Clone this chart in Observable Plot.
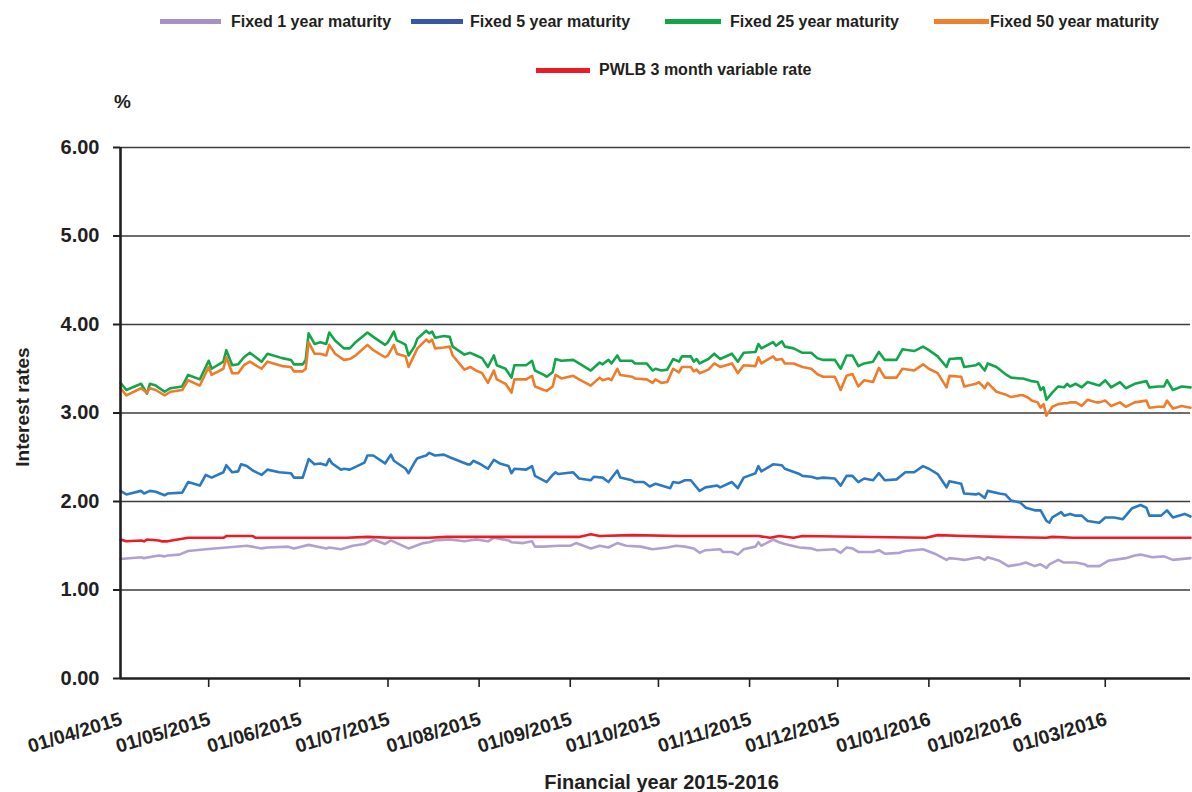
<!DOCTYPE html>
<html>
<head>
<meta charset="utf-8">
<script src="https://cdn.jsdelivr.net/npm/d3@7"></script>
<script src="https://cdn.jsdelivr.net/npm/@observablehq/plot@0.6"></script>
<style>
  body { margin: 0; background: #fff; font-family: "Liberation Sans", Arial, sans-serif; color: #231f20; }
  #legend { position: relative; width: 1192px; height: 86px; }
  .sw { position: absolute; height: 5px; }
  .lt { position: absolute; font-size: 16px; line-height: 16px; font-weight: bold; white-space: nowrap; color: #231f20; }
</style>
</head>
<body>
<div id="legend"></div>
<div id="chart"></div>
<script>
// ---------------- DATA ----------------
const seriesNames = ["Fixed 1 year maturity", "Fixed 5 year maturity", "Fixed 25 year maturity", "Fixed 50 year maturity", "PWLB 3 month variable rate"];

const monthTicks = ["2015-04-01","2015-05-01","2015-06-01","2015-07-01","2015-08-01","2015-09-01","2015-10-01","2015-11-01","2015-12-01","2016-01-01","2016-02-01","2016-03-01"];
const yTicks = [0, 1, 2, 3, 4, 5, 6];

// dates shared by the 25 year and 50 year series
const upperDates = [
"2015-04-01","2015-04-03","2015-04-08","2015-04-10","2015-04-11","2015-04-13","2015-04-16","2015-04-18","2015-04-22","2015-04-24","2015-04-28",
"2015-05-01","2015-05-02","2015-05-06","2015-05-07","2015-05-09","2015-05-11","2015-05-13","2015-05-15","2015-05-19","2015-05-21","2015-05-26","2015-05-29","2015-05-30",
"2015-06-02","2015-06-03","2015-06-04","2015-06-06","2015-06-08","2015-06-10","2015-06-11","2015-06-13","2015-06-16","2015-06-18","2015-06-20","2015-06-24","2015-06-26","2015-06-30",
"2015-07-01","2015-07-03","2015-07-04","2015-07-06","2015-07-07","2015-07-08","2015-07-10","2015-07-11","2015-07-14","2015-07-15","2015-07-16","2015-07-17","2015-07-20","2015-07-22","2015-07-23","2015-07-27","2015-07-29","2015-07-31",
"2015-08-02","2015-08-04","2015-08-06","2015-08-07","2015-08-10","2015-08-12","2015-08-13","2015-08-17","2015-08-19","2015-08-20","2015-08-23","2015-08-24","2015-08-26","2015-08-27","2015-08-29",
"2015-09-02","2015-09-04","2015-09-08","2015-09-11","2015-09-12","2015-09-14","2015-09-15","2015-09-17","2015-09-18","2015-09-22","2015-09-23","2015-09-27","2015-09-29","2015-09-30",
"2015-10-02","2015-10-04","2015-10-06","2015-10-08","2015-10-09","2015-10-12","2015-10-13","2015-10-14","2015-10-15","2015-10-18","2015-10-20","2015-10-22","2015-10-26","2015-10-28","2015-10-30",
"2015-11-03","2015-11-04","2015-11-05","2015-11-09","2015-11-10","2015-11-12","2015-11-13","2015-11-16","2015-11-19","2015-11-22","2015-11-24","2015-11-26","2015-11-30",
"2015-12-02","2015-12-04","2015-12-06","2015-12-08","2015-12-10","2015-12-13","2015-12-15","2015-12-17","2015-12-21","2015-12-23","2015-12-27","2015-12-30",
"2016-01-01","2016-01-04","2016-01-07","2016-01-08","2016-01-12","2016-01-13","2016-01-17","2016-01-18","2016-01-20","2016-01-21","2016-01-24","2016-01-27","2016-01-29",
"2016-02-01","2016-02-02","2016-02-04","2016-02-05","2016-02-07","2016-02-08","2016-02-09","2016-02-10","2016-02-12","2016-02-14","2016-02-16","2016-02-17","2016-02-18","2016-02-20","2016-02-22","2016-02-24","2016-02-27","2016-02-28",
"2016-03-01","2016-03-03","2016-03-06","2016-03-08","2016-03-11","2016-03-15","2016-03-16","2016-03-19","2016-03-21","2016-03-22","2016-03-24","2016-03-27","2016-03-30"];

const fixed25 = [
3.34,3.26,3.33,3.22,3.33,3.31,3.24,3.28,3.30,3.43,3.38,
3.59,3.50,3.58,3.71,3.54,3.55,3.63,3.68,3.58,3.67,3.62,3.60,3.55,
3.55,3.60,3.90,3.78,3.80,3.78,3.91,3.82,3.73,3.73,3.80,3.91,3.86,3.77,
3.80,3.92,3.82,3.79,3.77,3.65,3.75,3.84,3.93,3.90,3.92,3.85,3.87,3.86,3.75,3.66,3.68,3.65,
3.62,3.52,3.65,3.54,3.50,3.40,3.54,3.54,3.59,3.48,3.43,3.41,3.46,3.61,3.59,
3.60,3.56,3.48,3.57,3.55,3.60,3.56,3.65,3.59,3.59,3.56,3.56,3.48,3.50,
3.48,3.49,3.61,3.58,3.64,3.64,3.58,3.61,3.56,3.61,3.67,3.61,3.67,3.58,3.68,
3.69,3.78,3.73,3.80,3.76,3.81,3.75,3.73,3.68,3.68,3.62,3.60,3.60,
3.50,3.65,3.65,3.53,3.56,3.58,3.69,3.60,3.60,3.72,3.70,3.75,
3.71,3.64,3.52,3.61,3.62,3.52,3.54,3.56,3.48,3.56,3.52,3.44,3.40,
3.39,3.39,3.37,3.36,3.35,3.26,3.29,3.15,3.23,3.30,3.29,3.33,3.30,3.33,3.29,3.35,3.32,3.31,
3.37,3.29,3.35,3.28,3.33,3.36,3.29,3.30,3.30,3.37,3.26,3.30,3.29];

const fixed50 = [
3.28,3.20,3.28,3.23,3.28,3.26,3.20,3.24,3.26,3.37,3.31,
3.52,3.43,3.50,3.63,3.45,3.45,3.54,3.58,3.50,3.58,3.53,3.52,3.47,
3.47,3.50,3.80,3.67,3.67,3.65,3.77,3.67,3.60,3.61,3.65,3.77,3.71,3.63,
3.65,3.77,3.67,3.65,3.64,3.52,3.66,3.73,3.83,3.80,3.83,3.73,3.74,3.75,3.65,3.49,3.52,3.48,
3.45,3.34,3.48,3.38,3.33,3.23,3.38,3.38,3.42,3.30,3.26,3.25,3.30,3.43,3.39,
3.42,3.38,3.31,3.40,3.37,3.39,3.37,3.50,3.43,3.41,3.39,3.38,3.34,3.38,
3.34,3.35,3.50,3.46,3.52,3.52,3.47,3.49,3.45,3.49,3.56,3.52,3.56,3.45,3.54,
3.53,3.63,3.56,3.64,3.60,3.61,3.56,3.56,3.52,3.50,3.44,3.41,3.41,
3.26,3.42,3.44,3.30,3.37,3.35,3.51,3.40,3.40,3.50,3.48,3.55,
3.50,3.45,3.29,3.42,3.41,3.30,3.33,3.35,3.28,3.34,3.24,3.21,3.18,
3.20,3.20,3.17,3.14,3.12,3.06,3.10,2.97,3.07,3.10,3.11,3.11,3.12,3.12,3.08,3.15,3.12,3.12,
3.14,3.08,3.12,3.07,3.12,3.14,3.06,3.07,3.07,3.14,3.05,3.08,3.06];

const fixed5Dates = [
"2015-04-01","2015-04-03","2015-04-08","2015-04-09","2015-04-11","2015-04-13","2015-04-16","2015-04-17","2015-04-22","2015-04-24","2015-04-28","2015-04-30",
"2015-05-02","2015-05-06","2015-05-07","2015-05-09","2015-05-11","2015-05-12","2015-05-14","2015-05-16","2015-05-19","2015-05-21","2015-05-25","2015-05-29","2015-05-30",
"2015-06-02","2015-06-04","2015-06-06","2015-06-08","2015-06-10","2015-06-11","2015-06-12","2015-06-15","2015-06-16","2015-06-18","2015-06-23","2015-06-24","2015-06-26","2015-06-30",
"2015-07-02","2015-07-03","2015-07-07","2015-07-08","2015-07-10","2015-07-11","2015-07-14","2015-07-15","2015-07-17","2015-07-20","2015-07-22","2015-07-25","2015-07-28","2015-07-29","2015-07-30",
"2015-08-01","2015-08-04","2015-08-06","2015-08-08","2015-08-11","2015-08-12","2015-08-13","2015-08-17","2015-08-19","2015-08-20","2015-08-24","2015-08-26","2015-08-27","2015-08-28",
"2015-09-02","2015-09-04","2015-09-08","2015-09-09","2015-09-12","2015-09-14","2015-09-17","2015-09-18","2015-09-22","2015-09-23","2015-09-26","2015-09-28","2015-09-30",
"2015-10-02","2015-10-05","2015-10-06","2015-10-08","2015-10-10","2015-10-12","2015-10-15","2015-10-17","2015-10-21","2015-10-22","2015-10-26","2015-10-28","2015-10-30",
"2015-11-03","2015-11-04","2015-11-05","2015-11-09","2015-11-12","2015-11-13","2015-11-18","2015-11-19","2015-11-22","2015-11-24","2015-11-26","2015-11-30",
"2015-12-02","2015-12-04","2015-12-06","2015-12-08","2015-12-10","2015-12-13","2015-12-15","2015-12-17","2015-12-21","2015-12-24","2015-12-27","2015-12-30",
"2016-01-01","2016-01-04","2016-01-07","2016-01-08","2016-01-12","2016-01-13","2016-01-17","2016-01-18","2016-01-20","2016-01-21","2016-01-25","2016-01-27","2016-01-29",
"2016-02-01","2016-02-03","2016-02-06","2016-02-08","2016-02-10","2016-02-11","2016-02-12","2016-02-15","2016-02-16","2016-02-18","2016-02-20","2016-02-22","2016-02-24","2016-02-28",
"2016-03-01","2016-03-04","2016-03-07","2016-03-09","2016-03-10","2016-03-13","2016-03-15","2016-03-16","2016-03-20","2016-03-22","2016-03-24","2016-03-28","2016-03-30"];

const fixed5 = [
2.12,2.08,2.12,2.09,2.12,2.11,2.07,2.09,2.10,2.22,2.18,2.30,
2.27,2.33,2.41,2.33,2.34,2.42,2.40,2.35,2.30,2.36,2.33,2.32,2.27,
2.27,2.48,2.42,2.43,2.41,2.48,2.43,2.36,2.37,2.36,2.44,2.52,2.52,2.43,
2.53,2.46,2.37,2.32,2.44,2.49,2.52,2.55,2.52,2.53,2.50,2.46,2.42,2.42,2.46,
2.43,2.37,2.47,2.43,2.40,2.32,2.37,2.36,2.40,2.29,2.22,2.30,2.33,2.31,
2.33,2.26,2.24,2.28,2.27,2.22,2.35,2.27,2.24,2.22,2.22,2.17,2.20,
2.18,2.15,2.22,2.21,2.24,2.24,2.12,2.16,2.18,2.16,2.22,2.15,2.27,
2.32,2.40,2.34,2.42,2.41,2.37,2.31,2.29,2.28,2.26,2.27,2.26,
2.18,2.29,2.29,2.22,2.26,2.24,2.32,2.24,2.25,2.33,2.33,2.40,
2.37,2.31,2.16,2.23,2.20,2.09,2.08,2.09,2.04,2.12,2.09,2.08,2.01,
1.99,1.93,1.90,1.90,1.78,1.76,1.82,1.88,1.84,1.86,1.84,1.84,1.78,1.76,
1.82,1.82,1.80,1.88,1.92,1.96,1.93,1.84,1.84,1.90,1.82,1.86,1.83];

const fixed1Dates = [
"2015-04-01","2015-04-08","2015-04-09","2015-04-14","2015-04-16","2015-04-17","2015-04-21","2015-04-24","2015-04-30",
"2015-05-07","2015-05-14","2015-05-19","2015-05-21","2015-05-28","2015-05-30",
"2015-06-04","2015-06-10","2015-06-11","2015-06-15","2015-06-19","2015-06-23","2015-06-26","2015-06-30",
"2015-07-02","2015-07-04","2015-07-08","2015-07-13","2015-07-15","2015-07-17","2015-07-22","2015-07-27","2015-07-31",
"2015-08-04","2015-08-06","2015-08-11","2015-08-12","2015-08-16","2015-08-19","2015-08-20","2015-08-23","2015-08-28",
"2015-09-01","2015-09-03","2015-09-08","2015-09-11","2015-09-14","2015-09-17","2015-09-20","2015-09-25","2015-09-29",
"2015-10-04","2015-10-07","2015-10-10","2015-10-13","2015-10-15","2015-10-17","2015-10-22","2015-10-23","2015-10-26","2015-10-28","2015-10-30",
"2015-11-03","2015-11-04","2015-11-05","2015-11-09","2015-11-11","2015-11-13","2015-11-18","2015-11-22","2015-11-24","2015-11-30",
"2015-12-02","2015-12-04","2015-12-06","2015-12-08","2015-12-13","2015-12-15","2015-12-17","2015-12-22","2015-12-24","2015-12-30",
"2016-01-03","2016-01-07","2016-01-08","2016-01-11","2016-01-13","2016-01-18","2016-01-20","2016-01-21","2016-01-25","2016-01-28",
"2016-02-01","2016-02-03","2016-02-06","2016-02-08","2016-02-10","2016-02-11","2016-02-14","2016-02-16","2016-02-20","2016-02-23","2016-02-24","2016-02-28",
"2016-03-02","2016-03-08","2016-03-11","2016-03-13","2016-03-17","2016-03-21","2016-03-24","2016-03-30"];

const fixed1 = [
1.35,1.37,1.36,1.39,1.38,1.39,1.40,1.44,1.46,
1.48,1.50,1.47,1.48,1.49,1.47,
1.51,1.47,1.48,1.46,1.50,1.52,1.57,1.52,
1.56,1.53,1.47,1.53,1.54,1.56,1.57,1.55,1.57,
1.55,1.59,1.56,1.54,1.53,1.55,1.49,1.49,1.50,
1.50,1.53,1.47,1.50,1.48,1.53,1.50,1.49,1.46,
1.48,1.50,1.49,1.47,1.42,1.45,1.46,1.43,1.43,1.40,1.46,
1.49,1.54,1.50,1.57,1.54,1.52,1.48,1.47,1.45,1.46,
1.42,1.48,1.47,1.43,1.43,1.45,1.41,1.42,1.44,1.46,
1.41,1.34,1.36,1.35,1.34,1.37,1.34,1.37,1.33,1.27,
1.29,1.31,1.27,1.29,1.25,1.29,1.34,1.31,1.31,1.29,1.27,1.27,
1.33,1.36,1.39,1.40,1.37,1.38,1.34,1.36];

const pwlbDates = [
"2015-04-01","2015-04-03","2015-04-08","2015-04-09","2015-04-10","2015-04-14","2015-04-15","2015-04-17","2015-04-24",
"2015-05-06","2015-05-07","2015-05-16","2015-05-17","2015-06-17","2015-06-24","2015-07-02","2015-07-15","2015-07-21",
"2015-09-04","2015-09-08","2015-09-11","2015-09-22","2015-10-08","2015-11-04","2015-11-08","2015-11-11","2015-11-16","2015-11-19",
"2015-12-31","2016-01-04","2016-01-13","2016-01-25","2016-02-10","2016-02-12","2016-02-19","2016-03-30"];

const pwlb = [
1.57,1.55,1.56,1.55,1.57,1.56,1.55,1.55,1.59,
1.59,1.61,1.61,1.59,1.59,1.60,1.59,1.59,1.60,
1.60,1.63,1.61,1.62,1.61,1.61,1.59,1.61,1.59,1.61,
1.59,1.62,1.61,1.60,1.59,1.60,1.59,1.59];

// ---------------- STYLE ----------------
const lineColors = ["#b1a1d0", "#2a79c2", "#12a64b", "#ee7c2a", "#ed1c24"];
const swatchColors = ["#a690c8", "#3955a6", "#12a64b", "#ef7f2c", "#ed1c24"];
const legendLayout = [
  {sx: 160, sw: 61, cy: 21.5, tx: 231},
  {sx: 411, sw: 52, cy: 21.5, tx: 470},
  {sx: 665, sw: 56, cy: 21.5, tx: 730},
  {sx: 934, sw: 55, cy: 21.5, tx: 990},
  {sx: 536, sw: 54, cy: 70, tx: 599}
];

// legend
const legend = document.getElementById("legend");
seriesNames.forEach((name, i) => {
  const L = legendLayout[i];
  const sw = document.createElement("div");
  sw.className = "sw";
  sw.style.left = L.sx + "px"; sw.style.width = L.sw + "px";
  sw.style.top = (L.cy - 2.5) + "px"; sw.style.background = swatchColors[i];
  legend.appendChild(sw);
  const t = document.createElement("div");
  t.className = "lt";
  t.style.left = L.tx + "px"; t.style.top = (L.cy - 8) + "px";
  t.textContent = name;
  legend.appendChild(t);
});

// ---------------- CHART ----------------
const parseDate = d3.utcParse("%Y-%m-%d");
const fmtTick = d3.utcFormat("%d/%m/%Y");
const toRows = (dates, values) => dates.map((d, i) => ({date: parseDate(d), value: values[i]}));

const series = [
  toRows(fixed1Dates, fixed1),
  toRows(fixed5Dates, fixed5),
  toRows(upperDates, fixed25),
  toRows(upperDates, fixed50),
  toRows(pwlbDates, pwlb)
];
const monthDates = monthTicks.map(parseDate);
const xStart = parseDate("2015-04-01");
const xEnd = parseDate("2016-03-30");
const ink = "#231f20";

const chart = Plot.plot({
  width: 1192,
  height: 706,
  marginTop: 61,
  marginBottom: 114,
  marginLeft: 120,
  marginRight: 2,
  style: {fontFamily: "'Liberation Sans', Arial, sans-serif", color: ink, background: "#fff", overflow: "visible"},
  x: {type: "utc", domain: [xStart, xEnd]},
  y: {domain: [0, 6]},
  marks: [
    Plot.ruleY(yTicks.filter(d => d > 0), {stroke: "#3d3d3d", strokeWidth: 1.6}),
    Plot.axisY({ticks: yTicks, tickSize: 7, tickPadding: 14, tickFormat: d3.format(".2f"), fontSize: 20, fontWeight: "bold", strokeWidth: 2, label: null}),
    Plot.axisX({ticks: monthDates.slice(1), tickSize: 9, tickFormat: () => "", strokeWidth: 1.6, label: null}),
    Plot.text(monthDates, {x: d => d, text: d => fmtTick(d), frameAnchor: "bottom", dx: 3, dy: 46, rotate: -17, textAnchor: "end", lineAnchor: "bottom", fontSize: 19.5, fontWeight: "bold", fill: ink}),
    ...series.map((rows, i) => Plot.line(rows, {x: "date", y: "value", stroke: lineColors[i], strokeWidth: 2.6, strokeLinejoin: "round"})),
    Plot.ruleY([0], {stroke: ink, strokeWidth: 2.6}),
    Plot.ruleX([xStart], {y1: 0, y2: 6, stroke: ink, strokeWidth: 2.6}),
    Plot.text(["%"], {text: d => d, frameAnchor: "top-left", dx: 2, dy: -46, textAnchor: "middle", lineAnchor: "middle", fontSize: 19, fontWeight: "bold", fill: ink}),
    Plot.text(["Interest rates"], {text: d => d, frameAnchor: "left", dx: -98, dy: -6, rotate: -90, textAnchor: "middle", lineAnchor: "middle", fontSize: 19, fontWeight: "bold", fill: ink}),
    Plot.text(["Financial year 2015-2016"], {text: d => d, frameAnchor: "bottom", dx: 6, dy: 110, lineAnchor: "bottom", fontSize: 20, fontWeight: "bold", fill: ink})
  ]
});
document.getElementById("chart").appendChild(chart);
</script>
</body>
</html>
